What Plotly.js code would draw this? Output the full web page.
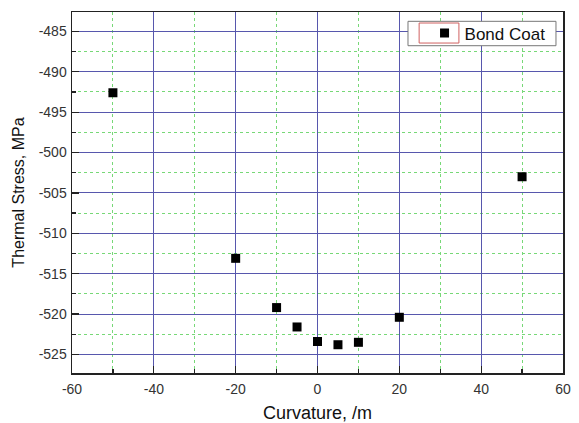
<!DOCTYPE html>
<html>
<head>
<meta charset="utf-8">
<script src="https://cdn.plot.ly/plotly-3.0.1.min.js"></script>
<style>html,body{margin:0;padding:0;background:#fff;}#chart{width:579px;height:423px;}</style>
</head>
<body>
<div id="chart"></div>
<script>
const curvature = [-50, -20, -10, -5, 0, 5, 10, 20, 50];
const stress = [-492.6, -513.1, -519.2, -521.6, -523.4, -523.8, -523.5, -520.4, -503.0];
const seriesName = 'Bond Coat';
const xTitle = 'Curvature, /m';
const yTitle = 'Thermal Stress, MPa';
const xTicks = [-60, -40, -20, 0, 20, 40, 60];
const xTickLabels = ['-60', '-40', '-20', '0', '20', '40', '60'];
const xMinor = [-50, -30, -10, 10, 30, 50];
const yTicks = [-525, -520, -515, -510, -505, -500, -495, -490, -485];
const yTickLabels = ['-525', '-520', '-515', '-510', '-505', '-500', '-495', '-490', '-485'];
const yMinor = [-527.5, -522.5, -517.5, -512.5, -507.5, -502.5, -497.5, -492.5, -487.5, -482.5];

const trace = {
  x: curvature, y: stress, name: seriesName, type: 'scatter', mode: 'markers',
  marker: {symbol: 'square', size: 9, color: '#000'}
};
const majorGrid = '#5757ad';
const minorGrid = '#77d877';
const layout = {
  width: 579, height: 423,
  margin: {l: 72, r: 16, t: 12, b: 50},
  paper_bgcolor: '#fff', plot_bgcolor: '#fff',
  font: {family: 'Liberation Sans, Arial, sans-serif', size: 14, color: '#333'},
  showlegend: true,
  legend: {x: 0.718, y: 0.9405, xanchor: 'left', yanchor: 'middle', bgcolor: 'rgba(0,0,0,0)',
           borderwidth: 0, font: {size: 17, color: '#111'}},
  xaxis: {
    range: [-60, 60], tickmode: 'array', tickvals: xTicks, ticktext: xTickLabels,
    showgrid: true, gridcolor: majorGrid, gridwidth: 1,
    zeroline: false, showline: true, linecolor: '#222', linewidth: 1.5, mirror: true,
    ticks: 'inside', ticklen: 7, tickcolor: '#222', tickwidth: 1.2, ticklabelstandoff: 3,
    minor: {tickmode: 'array', tickvals: xMinor, showgrid: true, gridcolor: minorGrid, griddash: 'dot', gridwidth: 1, ticks: 'inside', ticklen: 4, tickcolor: '#222'},
    title: {text: xTitle, font: {size: 18, color: '#111'}, standoff: 20}
  },
  yaxis: {
    range: [-527.3, -482.6], tickmode: 'array', tickvals: yTicks, ticktext: yTickLabels,
    showgrid: true, gridcolor: majorGrid, gridwidth: 1,
    zeroline: false, showline: true, linecolor: '#222', linewidth: 1.5, mirror: true,
    ticks: 'inside', ticklen: 7, tickcolor: '#222', tickwidth: 1.2, ticklabelstandoff: 1,
    minor: {tickmode: 'array', tickvals: yMinor, showgrid: true, gridcolor: minorGrid, griddash: 'dot', gridwidth: 1, ticks: 'inside', ticklen: 4, tickcolor: '#222'},
    title: {text: yTitle, font: {size: 16, color: '#111'}, standoff: 10}
  },
  shapes: [
    {type: 'rect', xref: 'paper', yref: 'paper', x0: 0.6843, x1: 0.9857, y0: 0.9066, y1: 0.9742,
     fillcolor: '#fff', line: {color: '#777', width: 1}, layer: 'above'},
    {type: 'rect', xref: 'paper', yref: 'paper', x0: 0.707, x1: 0.788, y0: 0.914, y1: 0.9695,
     fillcolor: 'rgba(0,0,0,0)', line: {color: '#d06060', width: 1}, layer: 'above'}
  ]
};
Plotly.newPlot('chart', [trace], layout, {displayModeBar: false, staticPlot: true});
</script>
</body>
</html>
